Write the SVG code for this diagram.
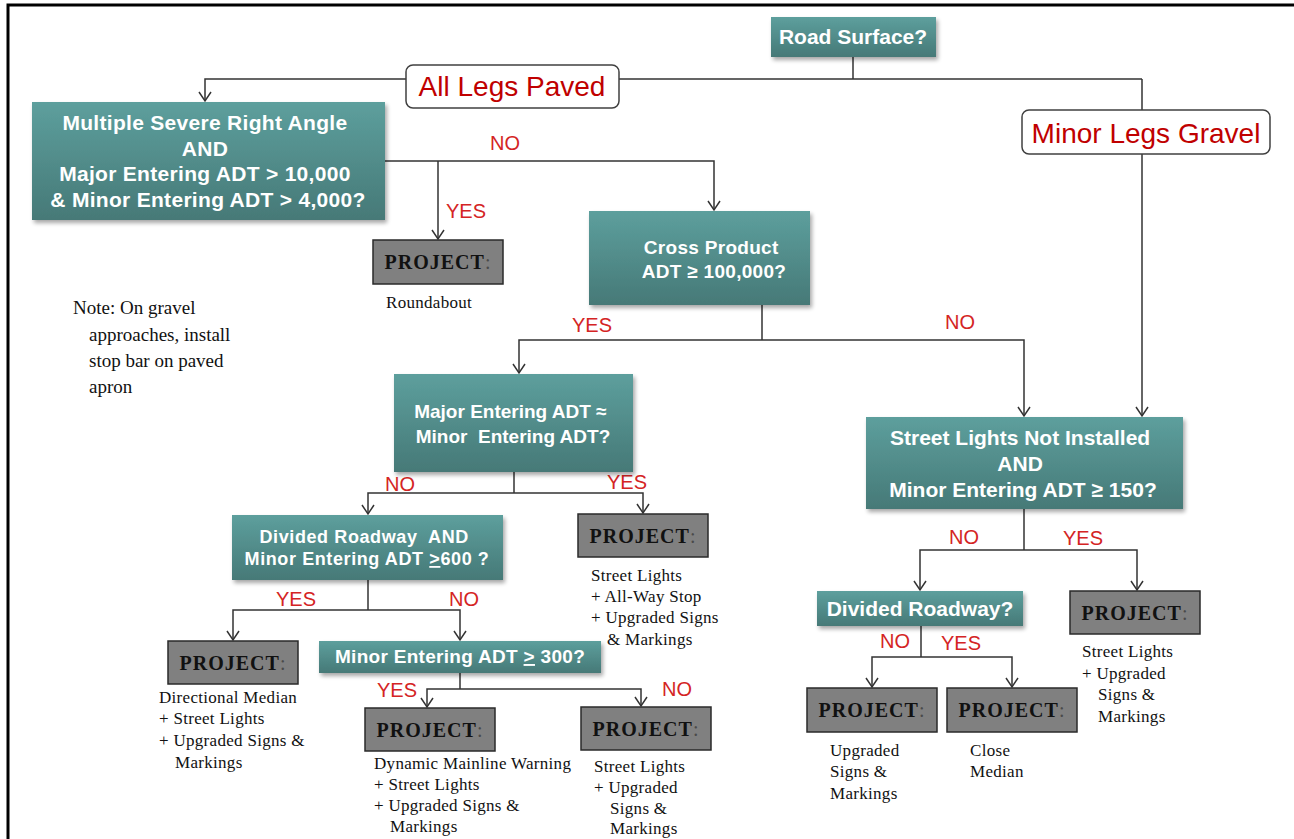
<svg xmlns="http://www.w3.org/2000/svg" width="1294" height="839" viewBox="0 0 1294 839">
  <defs>
    <linearGradient id="teal" x1="0" y1="0" x2="0" y2="1">
      <stop offset="0" stop-color="#5d9f9d"/>
      <stop offset="1" stop-color="#467977"/>
    </linearGradient>
    <filter id="shadow" x="-10%" y="-20%" width="125%" height="150%">
      <feGaussianBlur in="SourceAlpha" stdDeviation="2"/>
      <feOffset dx="2" dy="3" result="b"/>
      <feComponentTransfer><feFuncA type="linear" slope="0.35"/></feComponentTransfer>
      <feMerge><feMergeNode/><feMergeNode in="SourceGraphic"/></feMerge>
    </filter>
    <marker id="arr" viewBox="-11 -7 13 14" markerWidth="13" markerHeight="14" refX="0" refY="0" orient="auto" markerUnits="userSpaceOnUse">
      <path d="M-9,-6 L0,0 L-9,6" fill="none" stroke="#333" stroke-width="1.5"/>
    </marker>
    <style>
      .q { fill: url(#teal); filter: url(#shadow); }
      .qt { font-family: "Liberation Sans", Arial, sans-serif; font-weight: bold; fill: #fff; text-anchor: middle; }
      .lbl { fill: #fff; stroke: #404040; stroke-width: 1.5; }
      .lt { font-family: "Liberation Sans", Arial, sans-serif; font-size: 28px; fill: #c00000; text-anchor: middle; }
      .yn { font-family: "Liberation Sans", Arial, sans-serif; font-size: 20px; fill: #d42424; text-anchor: middle; }
      .pb { fill: #808080; stroke: #2a2a2a; stroke-width: 1.5; }
      .pt { font-family: "Liberation Serif", "Times New Roman", serif; font-weight: bold; font-size: 20px; letter-spacing: 1px; fill: #111; text-anchor: middle; }
      .pt .c { fill: #4a4a4a; font-weight: normal; }
      .bt { font-family: "Liberation Serif", "Times New Roman", serif; font-size: 17px; letter-spacing: 0.3px; fill: #111; }
      .note { font-family: "Liberation Serif", "Times New Roman", serif; font-size: 19px; fill: #111; }
      .cn { fill: none; stroke: #333; stroke-width: 1.5; }
    </style>
  </defs>

  <rect width="1294" height="839" fill="#fff"/>
  <!-- page frame -->
  <path d="M8,839 V5 H1294" fill="none" stroke="#000" stroke-width="3"/>

  <!-- connectors -->
  <g id="connectors" class="cn">
    <path d="M853,57 V79"/>
    <path d="M1142,79 H205 V101" marker-end="url(#arr)"/>
    <path d="M1142,79 V110"/>
    <path d="M1142,154 V416" marker-end="url(#arr)"/>

    <path d="M385,161 H714 V210" marker-end="url(#arr)"/>
    <path d="M438,161 V239" marker-end="url(#arr)"/>

    <path d="M762,305 V340"/>
    <path d="M762,340 H519 V373" marker-end="url(#arr)"/>
    <path d="M762,340 H1024 V416" marker-end="url(#arr)"/>

    <path d="M514,472 V493"/>
    <path d="M514,493 H368 V514" marker-end="url(#arr)"/>
    <path d="M514,493 H643 V513" marker-end="url(#arr)"/>

    <path d="M368,580 V610"/>
    <path d="M368,610 H233 V640" marker-end="url(#arr)"/>
    <path d="M368,610 H460 V640" marker-end="url(#arr)"/>

    <path d="M460,673 V689"/>
    <path d="M460,689 H427 V707" marker-end="url(#arr)"/>
    <path d="M460,689 H641 V706" marker-end="url(#arr)"/>

    <path d="M1024,509 V550"/>
    <path d="M1024,550 H920 V590" marker-end="url(#arr)"/>
    <path d="M1024,550 H1137 V590" marker-end="url(#arr)"/>

    <path d="M921,626 V657"/>
    <path d="M921,657 H872 V687" marker-end="url(#arr)"/>
    <path d="M921,657 H1012 V687" marker-end="url(#arr)"/>
  </g>

  <!-- branch labels -->
  <g id="branch-labels">
    <text class="yn" x="505" y="150">NO</text>
    <text class="yn" x="466" y="218">YES</text>
    <text class="yn" x="592" y="332">YES</text>
    <text class="yn" x="960" y="329">NO</text>
    <text class="yn" x="400" y="491">NO</text>
    <text class="yn" x="627" y="489">YES</text>
    <text class="yn" x="296" y="606">YES</text>
    <text class="yn" x="464" y="606">NO</text>
    <text class="yn" x="397" y="697">YES</text>
    <text class="yn" x="677" y="696">NO</text>
    <text class="yn" x="964" y="544">NO</text>
    <text class="yn" x="1083" y="545">YES</text>
    <text class="yn" x="895" y="648">NO</text>
    <text class="yn" x="961" y="650">YES</text>
  </g>

  <!-- decisions -->
  <g id="road-surface">
    <rect class="q" x="771" y="17" width="165" height="40"/>
    <text class="qt" x="853" y="44" font-size="21">Road Surface?</text>
  </g>

  <g id="all-legs-paved">
    <rect class="lbl" x="406" y="65" width="213" height="43" rx="7"/>
    <text class="lt" x="512" y="96">All Legs Paved</text>
  </g>

  <g id="minor-legs-gravel">
    <rect class="lbl" x="1022" y="110" width="248" height="44" rx="7"/>
    <text class="lt" x="1146" y="143">Minor Legs Gravel</text>
  </g>

  <g id="severe-right-angle">
    <rect class="q" x="32" y="102" width="353" height="118"/>
    <text class="qt" font-size="21" letter-spacing="0.3">
      <tspan x="208" y="130">Multiple Severe Right Angle</tspan>
      <tspan x="208" y="156">AND</tspan>
      <tspan x="208" y="181">Major Entering ADT &gt; 10,000</tspan>
      <tspan x="208" y="207">&amp; Minor Entering ADT &gt; 4,000?</tspan>
    </text>
  </g>

  <g id="cross-product">
    <rect class="q" x="589" y="211" width="221" height="94"/>
    <text class="qt" font-size="19" letter-spacing="0.3">
      <tspan x="714" y="254">Cross Product</tspan>
      <tspan x="714" y="278">ADT ≥ 100,000?</tspan>
    </text>
  </g>

  <g id="major-minor">
    <rect class="q" x="394" y="374" width="239" height="98"/>
    <text class="qt" font-size="19">
      <tspan x="513" y="418">Major Entering ADT ≈</tspan>
      <tspan x="513" y="443" xml:space="preserve">Minor  Entering ADT?</tspan>
    </text>
  </g>

  <g id="divided-600">
    <rect class="q" x="232" y="515" width="271" height="65"/>
    <text class="qt" font-size="18" letter-spacing="0.6">
      <tspan x="367" y="543" xml:space="preserve">Divided Roadway  AND</tspan>
      <tspan x="367" y="565">Minor Entering ADT <tspan text-decoration="underline">&gt;</tspan>600 ?</tspan>
    </text>
  </g>

  <g id="minor-300">
    <rect class="q" x="319" y="641" width="282" height="32"/>
    <text class="qt" x="460" y="663" font-size="19" letter-spacing="0.3">Minor Entering ADT <tspan text-decoration="underline">&gt;</tspan> 300?</text>
  </g>

  <g id="street-lights-150">
    <rect class="q" x="866" y="417" width="317" height="92"/>
    <text class="qt" font-size="21">
      <tspan x="1023" y="445">Street Lights Not Installed</tspan>
      <tspan x="1023" y="471">AND</tspan>
      <tspan x="1023" y="497">Minor Entering ADT ≥ 150?</tspan>
    </text>
  </g>

  <g id="divided-roadway">
    <rect class="q" x="817" y="591" width="206" height="35"/>
    <text class="qt" x="920" y="616" font-size="21">Divided Roadway?</text>
  </g>

  <!-- projects -->
  <g id="project-roundabout">
    <rect class="pb" x="373" y="240" width="130" height="44"/>
    <text class="pt" x="438" y="269">PROJECT<tspan class="c">:</tspan></text>
    <text class="bt" x="386" y="308">Roundabout</text>
  </g>

  <g id="project-all-way-stop">
    <rect class="pb" x="578" y="514" width="130" height="43"/>
    <text class="pt" x="643" y="543">PROJECT<tspan class="c">:</tspan></text>
    <text class="bt">
      <tspan x="591" y="581">Street Lights</tspan>
      <tspan x="591" y="602">+ All-Way Stop</tspan>
      <tspan x="591" y="623">+ Upgraded Signs</tspan>
      <tspan x="607" y="645">&amp; Markings</tspan>
    </text>
  </g>

  <g id="project-directional-median">
    <rect class="pb" x="168" y="641" width="130" height="43"/>
    <text class="pt" x="233" y="670">PROJECT<tspan class="c">:</tspan></text>
    <text class="bt">
      <tspan x="159" y="703">Directional Median</tspan>
      <tspan x="159" y="724">+ Street Lights</tspan>
      <tspan x="159" y="746">+ Upgraded Signs &amp;</tspan>
      <tspan x="175" y="768">Markings</tspan>
    </text>
  </g>

  <g id="project-dynamic-warning">
    <rect class="pb" x="365" y="708" width="130" height="43"/>
    <text class="pt" x="430" y="737">PROJECT<tspan class="c">:</tspan></text>
    <text class="bt">
      <tspan x="374" y="769">Dynamic Mainline Warning</tspan>
      <tspan x="374" y="790">+ Street Lights</tspan>
      <tspan x="374" y="811">+ Upgraded Signs &amp;</tspan>
      <tspan x="390" y="832">Markings</tspan>
    </text>
  </g>

  <g id="project-lights-signs">
    <rect class="pb" x="581" y="707" width="130" height="43"/>
    <text class="pt" x="646" y="736">PROJECT<tspan class="c">:</tspan></text>
    <text class="bt">
      <tspan x="594" y="772">Street Lights</tspan>
      <tspan x="594" y="793">+ Upgraded</tspan>
      <tspan x="610" y="814">Signs &amp;</tspan>
      <tspan x="610" y="834">Markings</tspan>
    </text>
  </g>

  <g id="project-upgraded-signs">
    <rect class="pb" x="807" y="688" width="130" height="44"/>
    <text class="pt" x="872" y="717">PROJECT<tspan class="c">:</tspan></text>
    <text class="bt">
      <tspan x="830" y="756">Upgraded</tspan>
      <tspan x="830" y="777">Signs &amp;</tspan>
      <tspan x="830" y="799">Markings</tspan>
    </text>
  </g>

  <g id="project-close-median">
    <rect class="pb" x="947" y="688" width="130" height="44"/>
    <text class="pt" x="1012" y="717">PROJECT<tspan class="c">:</tspan></text>
    <text class="bt">
      <tspan x="970" y="756">Close</tspan>
      <tspan x="970" y="777">Median</tspan>
    </text>
  </g>

  <g id="project-street-lights">
    <rect class="pb" x="1070" y="591" width="130" height="43"/>
    <text class="pt" x="1135" y="620">PROJECT<tspan class="c">:</tspan></text>
    <text class="bt">
      <tspan x="1082" y="657">Street Lights</tspan>
      <tspan x="1082" y="679">+ Upgraded</tspan>
      <tspan x="1098" y="700">Signs &amp;</tspan>
      <tspan x="1098" y="722">Markings</tspan>
    </text>
  </g>

  <!-- note -->
  <g id="note">
    <text class="note">
      <tspan x="73" y="314">Note: On gravel</tspan>
      <tspan x="89" y="341">approaches, install</tspan>
      <tspan x="89" y="367">stop bar on paved</tspan>
      <tspan x="89" y="393">apron</tspan>
    </text>
  </g>
</svg>
